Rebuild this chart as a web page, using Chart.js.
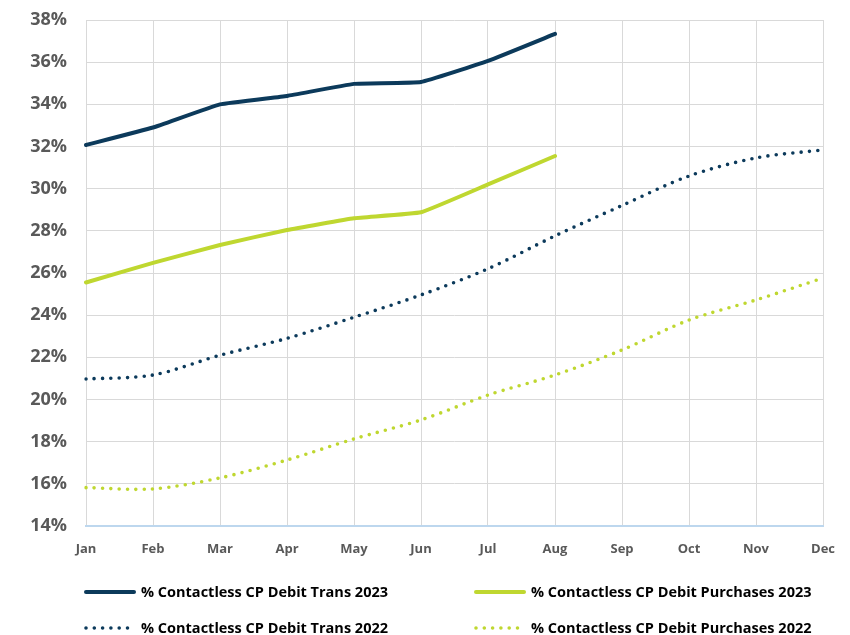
<!DOCTYPE html>
<html>
<head>
<meta charset="utf-8">
<script src="https://cdn.jsdelivr.net/npm/chart.js@4"></script>
<style>
  html, body { margin: 0; padding: 0; background: #ffffff; }
  #wrap { width: 850px; height: 635px; position: relative; }
</style>
</head>
<body>
<div id="wrap"><canvas id="chart"></canvas></div>
<script>
// Months on the x axis
const months = ['Jan', 'Feb', 'Mar', 'Apr', 'May', 'Jun', 'Jul', 'Aug', 'Sep', 'Oct', 'Nov', 'Dec'];

// Share of card-present debit activity that was contactless (%)
const trans2023 = [32.07, 32.9, 34.0, 34.4, 34.97, 35.06, 36.06, 37.34];
const purchases2023 = [25.55, 26.48, 27.33, 28.04, 28.6, 28.88, 30.2, 31.55];
const trans2022 = [20.97, 21.16, 22.1, 22.9, 23.9, 24.96, 26.2, 27.76, 29.2, 30.6, 31.46, 31.84];
const purchases2022 = [15.82, 15.76, 16.28, 17.13, 18.13, 19.03, 20.21, 21.16, 22.35, 23.77, 24.72, 25.76];

const seriesNames = [
  '% Contactless CP Debit Trans 2023',
  '% Contactless CP Debit Purchases 2023',
  '% Contactless CP Debit Trans 2022',
  '% Contactless CP Debit Purchases 2022'
];

const NAVY = '#0c3a5b';
const LIME = '#bfd730';
const DOTS = [0, 8.3];

function solid(label, data, color) {
  return {
    label, data, borderColor: color, backgroundColor: color,
    borderWidth: 4, pointRadius: 0, tension: 0.1, fill: false,
    borderCapStyle: 'round', borderJoinStyle: 'round'
  };
}
function dotted(label, data, color) {
  return {
    label, data, borderColor: color, backgroundColor: color,
    borderWidth: 3.6, pointRadius: 0, tension: 0.3, fill: false,
    borderDash: DOTS, borderCapStyle: 'round'
  };
}

// Two-column legend drawn under the plot
const bottomLegend = {
  id: 'bottomLegend',
  afterDraw(chart) {
    const ctx = chart.ctx;
    const cols = [85, 475];
    const rows = [592, 628];
    ctx.save();
    chart.data.datasets.forEach((ds, i) => {
      const x = cols[i % 2];
      const y = rows[Math.floor(i / 2)];
      ctx.strokeStyle = ds.borderColor;
      ctx.lineWidth = ds.borderWidth;
      ctx.lineCap = 'round';
      ctx.setLineDash(ds.borderDash || []);
      ctx.beginPath();
      ctx.moveTo(x + 1, y);
      ctx.lineTo(x + 49, y);
      ctx.stroke();
      ctx.setLineDash([]);
      ctx.fillStyle = '#000000';
      ctx.font = 'bold 14.5px "Open Sans", Lato, sans-serif';
      ctx.textAlign = 'left';
      ctx.textBaseline = 'middle';
      ctx.fillText(ds.label, x + 56, y + 1);
    });
    ctx.restore();
  }
};

new Chart(document.getElementById('chart'), {
  type: 'line',
  data: {
    labels: months,
    datasets: [
      solid(seriesNames[0], trans2023, NAVY),
      solid(seriesNames[1], purchases2023, LIME),
      dotted(seriesNames[2], trans2022, NAVY),
      dotted(seriesNames[3], purchases2022, LIME)
    ]
  },
  options: {
    responsive: true,
    maintainAspectRatio: false,
    animation: false,
    layout: { padding: { left: 0, right: 27, top: 20, bottom: 70 } },
    plugins: { legend: { display: false }, tooltip: { enabled: false } },
    scales: {
      x: {
        offset: false,
        afterFit(s) { s.height = 39; s.paddingLeft = 0; s.paddingRight = 0; },
        grid: { color: '#d9d9d9', lineWidth: 1, drawTicks: false },
        border: { color: '#bdd7ee', width: 2 },
        ticks: {
          color: '#595959', padding: 15, maxRotation: 0,
          font: { family: '"Open Sans", Lato, sans-serif', size: 13, weight: 'bold' }
        }
      },
      y: {
        min: 14, max: 38,
        afterFit(s) { s.width = 86; s.paddingTop = 0; s.paddingBottom = 0; },
        grid: { color: '#d9d9d9', lineWidth: 1, drawTicks: false },
        border: { display: false },
        ticks: {
          stepSize: 2, color: '#595959', padding: 19,
          font: { family: '"Open Sans", Lato, sans-serif', size: 18, weight: 'bold' },
          callback: v => v + '%'
        }
      }
    }
  },
  plugins: [bottomLegend]
});
</script>
</body>
</html>
